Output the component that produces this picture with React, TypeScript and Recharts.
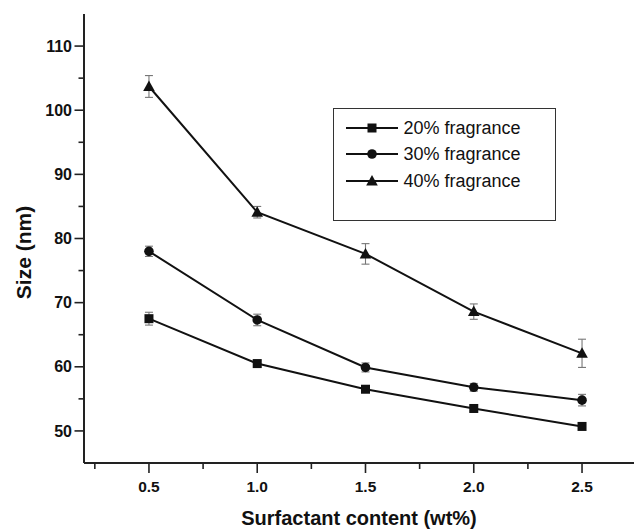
import React from 'react';
import { LineChart, Line, XAxis, YAxis, ErrorBar, Legend } from 'recharts';

const surfactant = [0.5, 1.0, 1.5, 2.0, 2.5];
const size20 = [67.5, 60.5, 56.5, 53.5, 50.7];
const size30 = [78.0, 67.3, 59.9, 56.8, 54.8];
const size40 = [103.7, 84.1, 77.6, 68.6, 62.1];
const err20 = [1.0, 0.5, 0.5, 0.4, 0.3];
const err30 = [0.8, 0.9, 0.7, 0.6, 0.9];
const err40 = [1.7, 0.9, 1.6, 1.2, 2.2];
const seriesNames = ['20% fragrance', '30% fragrance', '40% fragrance'];
const xTicks = [0.25, 0.5, 0.75, 1.0, 1.25, 1.5, 1.75, 2.0, 2.25, 2.5];
const yTicks = [50, 55, 60, 65, 70, 75, 80, 85, 90, 95, 100, 105, 110];

const data = surfactant.map((x, i) => ({
  x,
  s20: size20[i],
  s30: size30[i],
  s40: size40[i],
  e20: err20[i],
  e30: err30[i],
  e40: err40[i],
}));

const FONT = '"Liberation Sans", Arial, Helvetica, sans-serif';
const INK = '#111';

type Shape = 'square' | 'circle' | 'triangle';

const Marker = ({ cx, cy, shape }: { cx: number; cy: number; shape: Shape }) => {
  if (shape === 'square') return <rect x={cx - 4.5} y={cy - 4.5} width={9} height={9} fill={INK} />;
  if (shape === 'circle') return <circle cx={cx} cy={cy} r={4.8} fill={INK} />;
  return <polygon points={`${cx},${cy - 6} ${cx - 5.8},${cy + 4.5} ${cx + 5.8},${cy + 4.5}`} fill={INK} />;
};

const shapes: Shape[] = ['square', 'circle', 'triangle'];

const makeDot = (shape: Shape) => (props: any) => {
  const { cx, cy, index } = props;
  if (cx == null || cy == null) return <g key={`d-${shape}-${index}`} />;
  return <Marker key={`d-${shape}-${index}`} cx={cx} cy={cy} shape={shape} />;
};

const XTick = (props: any) => {
  const { x, y, payload } = props;
  const v = payload.value as number;
  const major = Math.abs(v * 2 - Math.round(v * 2)) < 1e-6;
  return (
    <g>
      <line x1={x} x2={x} y1={y} y2={y + (major ? 10 : 6)} stroke="#222" strokeWidth={1.6} />
      {major && (
        <text x={x} y={y + 29} textAnchor="middle" fontFamily={FONT} fontWeight="bold" fontSize={15.5} fill={INK}>
          {v.toFixed(1)}
        </text>
      )}
    </g>
  );
};

const YTick = (props: any) => {
  const { x, y, payload } = props;
  const v = payload.value as number;
  const major = v % 10 === 0;
  return (
    <g>
      <line x1={x - (major ? 9.5 : 5.5)} x2={x} y1={y} y2={y} stroke="#222" strokeWidth={1.6} />
      {major && (
        <text x={x - 12} y={y + 5.6} textAnchor="end" fontFamily={FONT} fontWeight="bold" fontSize={16} fill={INK}>
          {v}
        </text>
      )}
    </g>
  );
};

const LegendBox = () => (
  <div
    style={{
      position: 'relative',
      width: 223,
      height: 113,
      border: '1.5px solid #333',
      boxSizing: 'border-box',
      background: '#fff',
    }}
  >
    {seriesNames.map((name, i) => (
      <div key={name} style={{ position: 'absolute', left: 9.5, top: 9.5 + i * 26.8, height: 18, display: 'flex', alignItems: 'center' }}>
        <svg width={56} height={18} style={{ display: 'block' }}>
          <line x1={2} x2={54} y1={9} y2={9} stroke={INK} strokeWidth={2} />
          <Marker cx={28} cy={9} shape={shapes[i]} />
        </svg>
        <span style={{ fontFamily: FONT, fontSize: 18, color: INK, marginLeft: 4, lineHeight: '18px', whiteSpace: 'nowrap' }}>{name}</span>
      </div>
    ))}
  </div>
);

const keys = ['s20', 's30', 's40'];
const errKeys = ['e20', 'e30', 'e40'];

export default function App() {
  return (
    <div style={{ position: 'absolute', left: 0, top: 0, background: '#fff' }}>
      <LineChart width={634} height={531} data={data} margin={{ top: 14, right: 0, left: 0, bottom: 0 }}>
        <XAxis
          dataKey="x"
          type="number"
          domain={[0.2, 2.74]}
          ticks={xTicks}
          interval={0}
          tickSize={0}
          tickMargin={0}
          tick={<XTick />}
          height={68}
          axisLine={{ stroke: '#222', strokeWidth: 2 }}
          tickLine={false}
          label={(p: any) => {
            const vb = p.viewBox;
            return (
              <text x={vb.x + vb.width / 2} y={525} textAnchor="middle" fontFamily={FONT} fontWeight="bold" fontSize={20} fill={INK}>
                Surfactant content (wt%)
              </text>
            );
          }}
        />
        <YAxis
          type="number"
          domain={[45, 115]}
          ticks={yTicks}
          interval={0}
          tickSize={0}
          tickMargin={0}
          tick={<YTick />}
          width={84}
          axisLine={{ stroke: '#222', strokeWidth: 2 }}
          tickLine={false}
          label={(p: any) => {
            const vb = p.viewBox;
            const cy = vb.y + vb.height / 2 + 14;
            return (
              <text x={23} y={cy} transform={`rotate(-90, 23, ${cy})`} textAnchor="middle" dominantBaseline="central" fontFamily={FONT} fontWeight="bold" fontSize={21} fill={INK}>
                Size (nm)
              </text>
            );
          }}
        />
        <Legend
          layout="vertical"
          align="center"
          verticalAlign="middle"
          content={<LegendBox />}
          wrapperStyle={{ left: 333, top: 108, width: 223, height: 113 }}
        />
        {keys.map((k, i) => (
          <Line
            key={k}
            dataKey={k}
            name={seriesNames[i]}
            stroke={INK}
            strokeWidth={2}
            dot={makeDot(shapes[i])}
            activeDot={false}
            isAnimationActive={false}
          >
            <ErrorBar dataKey={errKeys[i]} direction="y" width={4} stroke="#777" strokeWidth={1.1} />
          </Line>
        ))}
      </LineChart>
    </div>
  );
}
